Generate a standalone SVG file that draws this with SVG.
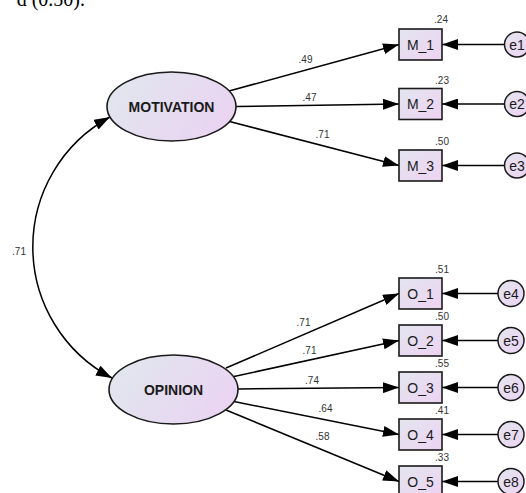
<svg xmlns="http://www.w3.org/2000/svg" width="526" height="493" viewBox="0 0 526 493">
<defs>
<linearGradient id="gBox" x1="0" y1="0" x2="1" y2="1">
<stop offset="0" stop-color="#E3E5EF"/>
<stop offset="1" stop-color="#EDD3F2"/>
</linearGradient>
<linearGradient id="gEll" x1="0" y1="0.3" x2="1" y2="0.7">
<stop offset="0" stop-color="#E1E6EE"/>
<stop offset="1" stop-color="#EAD3F2"/>
</linearGradient>
<marker id="arr" viewBox="0 0 16 11" refX="16" refY="5.5" markerWidth="16" markerHeight="11" markerUnits="userSpaceOnUse" orient="auto-start-reverse">
<path d="M0,0 L16,5.5 L0,11 z" fill="#000"/>
</marker>
</defs>
<style>
.box{fill:url(#gBox);stroke:#1a1a1a;stroke-width:1.6}
.ell{fill:url(#gEll);stroke:#1a1a1a;stroke-width:1.6}
.err{fill:url(#gBox);stroke:#1a1a1a;stroke-width:1.5}
.lat{font-family:"Liberation Sans",Arial,sans-serif;font-weight:bold;font-size:14px;fill:#1a1a1a;text-anchor:middle}
.obs{font-family:"Liberation Sans",Arial,sans-serif;font-size:14px;fill:#1a1a1a;text-anchor:middle}
.num{font-family:"Liberation Sans",Arial,sans-serif;font-size:10px;fill:#333;text-anchor:middle}
.cap{font-family:"Liberation Serif","Times New Roman",serif;font-size:20px;fill:#000}
.ln{fill:none;stroke:#000;stroke-width:1.5;marker-end:url(#arr)}
</style>
<rect width="526" height="493" fill="#fff"/>
<text class="cap" x="85" y="6" text-anchor="end">d (0.50).</text>

<g id="connectors">
<path class="ln" d="M110,117 A148,148 0 0,0 112,378" marker-start="url(#arr)"/>
<line class="ln" x1="229" y1="91" x2="399" y2="44.5"/>
<line class="ln" x1="236" y1="106.5" x2="399" y2="104"/>
<line class="ln" x1="229.5" y1="121.5" x2="399" y2="165.5"/>
<line class="ln" x1="226" y1="368" x2="399" y2="293.5"/>
<line class="ln" x1="234" y1="376.5" x2="399" y2="340.5"/>
<line class="ln" x1="238" y1="389" x2="399" y2="387.5"/>
<line class="ln" x1="234" y1="401.5" x2="399" y2="434.5"/>
<line class="ln" x1="226" y1="410" x2="399" y2="481.5"/>
<line class="ln" x1="504.5" y1="44.5" x2="442" y2="44.5"/>
<line class="ln" x1="504.5" y1="104" x2="442" y2="104"/>
<line class="ln" x1="504.5" y1="165.5" x2="442" y2="165.5"/>
<line class="ln" x1="498" y1="293.5" x2="442" y2="293.5"/>
<line class="ln" x1="498" y1="340.5" x2="442" y2="340.5"/>
<line class="ln" x1="498" y1="387.5" x2="442" y2="387.5"/>
<line class="ln" x1="498" y1="434.5" x2="442" y2="434.5"/>
<line class="ln" x1="498" y1="481.5" x2="442" y2="481.5"/>
<text class="num" x="19" y="254.5">.71</text>
<text class="num" x="305.5" y="63">.49</text>
<text class="num" x="309.5" y="101">.47</text>
<text class="num" x="322.5" y="138">.71</text>
<text class="num" x="303.5" y="325.5">.71</text>
<text class="num" x="309.5" y="354">.71</text>
<text class="num" x="312" y="384">.74</text>
<text class="num" x="325.5" y="412">.64</text>
<text class="num" x="322.5" y="440">.58</text>
</g>

<g id="MOTIVATION">
<ellipse class="ell" cx="171.5" cy="106.5" rx="64.5" ry="34.5"/>
<text class="lat" x="171.5" y="112">MOTIVATION</text>
</g>
<g id="OPINION">
<ellipse class="ell" cx="173.5" cy="389.5" rx="64.5" ry="34.5"/>
<text class="lat" x="173.5" y="395">OPINION</text>
</g>

<g id="M_1"><rect class="box" x="399" y="29" width="43" height="31"/><text class="obs" x="420.5" y="49.5">M_1</text><text class="num" x="441" y="22.5">.24</text></g>
<g id="M_2"><rect class="box" x="399" y="88.5" width="43" height="31"/><text class="obs" x="420.5" y="109">M_2</text><text class="num" x="442" y="84">.23</text></g>
<g id="M_3"><rect class="box" x="399" y="150" width="43" height="31"/><text class="obs" x="420.5" y="170.5">M_3</text><text class="num" x="442" y="145">.50</text></g>

<g id="O_1"><rect class="box" x="399" y="278" width="43" height="31"/><text class="obs" x="420.5" y="298.5">O_1</text><text class="num" x="442" y="273">.51</text></g>
<g id="O_2"><rect class="box" x="399" y="325" width="43" height="31"/><text class="obs" x="420.5" y="345.5">O_2</text><text class="num" x="442" y="320">.50</text></g>
<g id="O_3"><rect class="box" x="399" y="372" width="43" height="31"/><text class="obs" x="420.5" y="392.5">O_3</text><text class="num" x="442" y="367">.55</text></g>
<g id="O_4"><rect class="box" x="399" y="419" width="43" height="31"/><text class="obs" x="420.5" y="439.5">O_4</text><text class="num" x="442" y="414">.41</text></g>
<g id="O_5"><rect class="box" x="399" y="466" width="43" height="31"/><text class="obs" x="420.5" y="486.5">O_5</text><text class="num" x="442" y="461">.33</text></g>

<g id="e1"><circle class="err" cx="517" cy="44.5" r="12.5"/><text class="obs" x="517" y="49.5">e1</text></g>
<g id="e2"><circle class="err" cx="517" cy="104" r="12.5"/><text class="obs" x="517" y="109">e2</text></g>
<g id="e3"><circle class="err" cx="517" cy="165.5" r="12.5"/><text class="obs" x="517" y="170.5">e3</text></g>
<g id="e4"><circle class="err" cx="511" cy="293.5" r="13"/><text class="obs" x="511" y="298.5">e4</text></g>
<g id="e5"><circle class="err" cx="511" cy="340.5" r="13"/><text class="obs" x="511" y="345.5">e5</text></g>
<g id="e6"><circle class="err" cx="511" cy="387.5" r="13"/><text class="obs" x="511" y="392.5">e6</text></g>
<g id="e7"><circle class="err" cx="511" cy="434.5" r="13"/><text class="obs" x="511" y="439.5">e7</text></g>
<g id="e8"><circle class="err" cx="511" cy="481.5" r="13"/><text class="obs" x="511" y="486.5">e8</text></g>
</svg>
